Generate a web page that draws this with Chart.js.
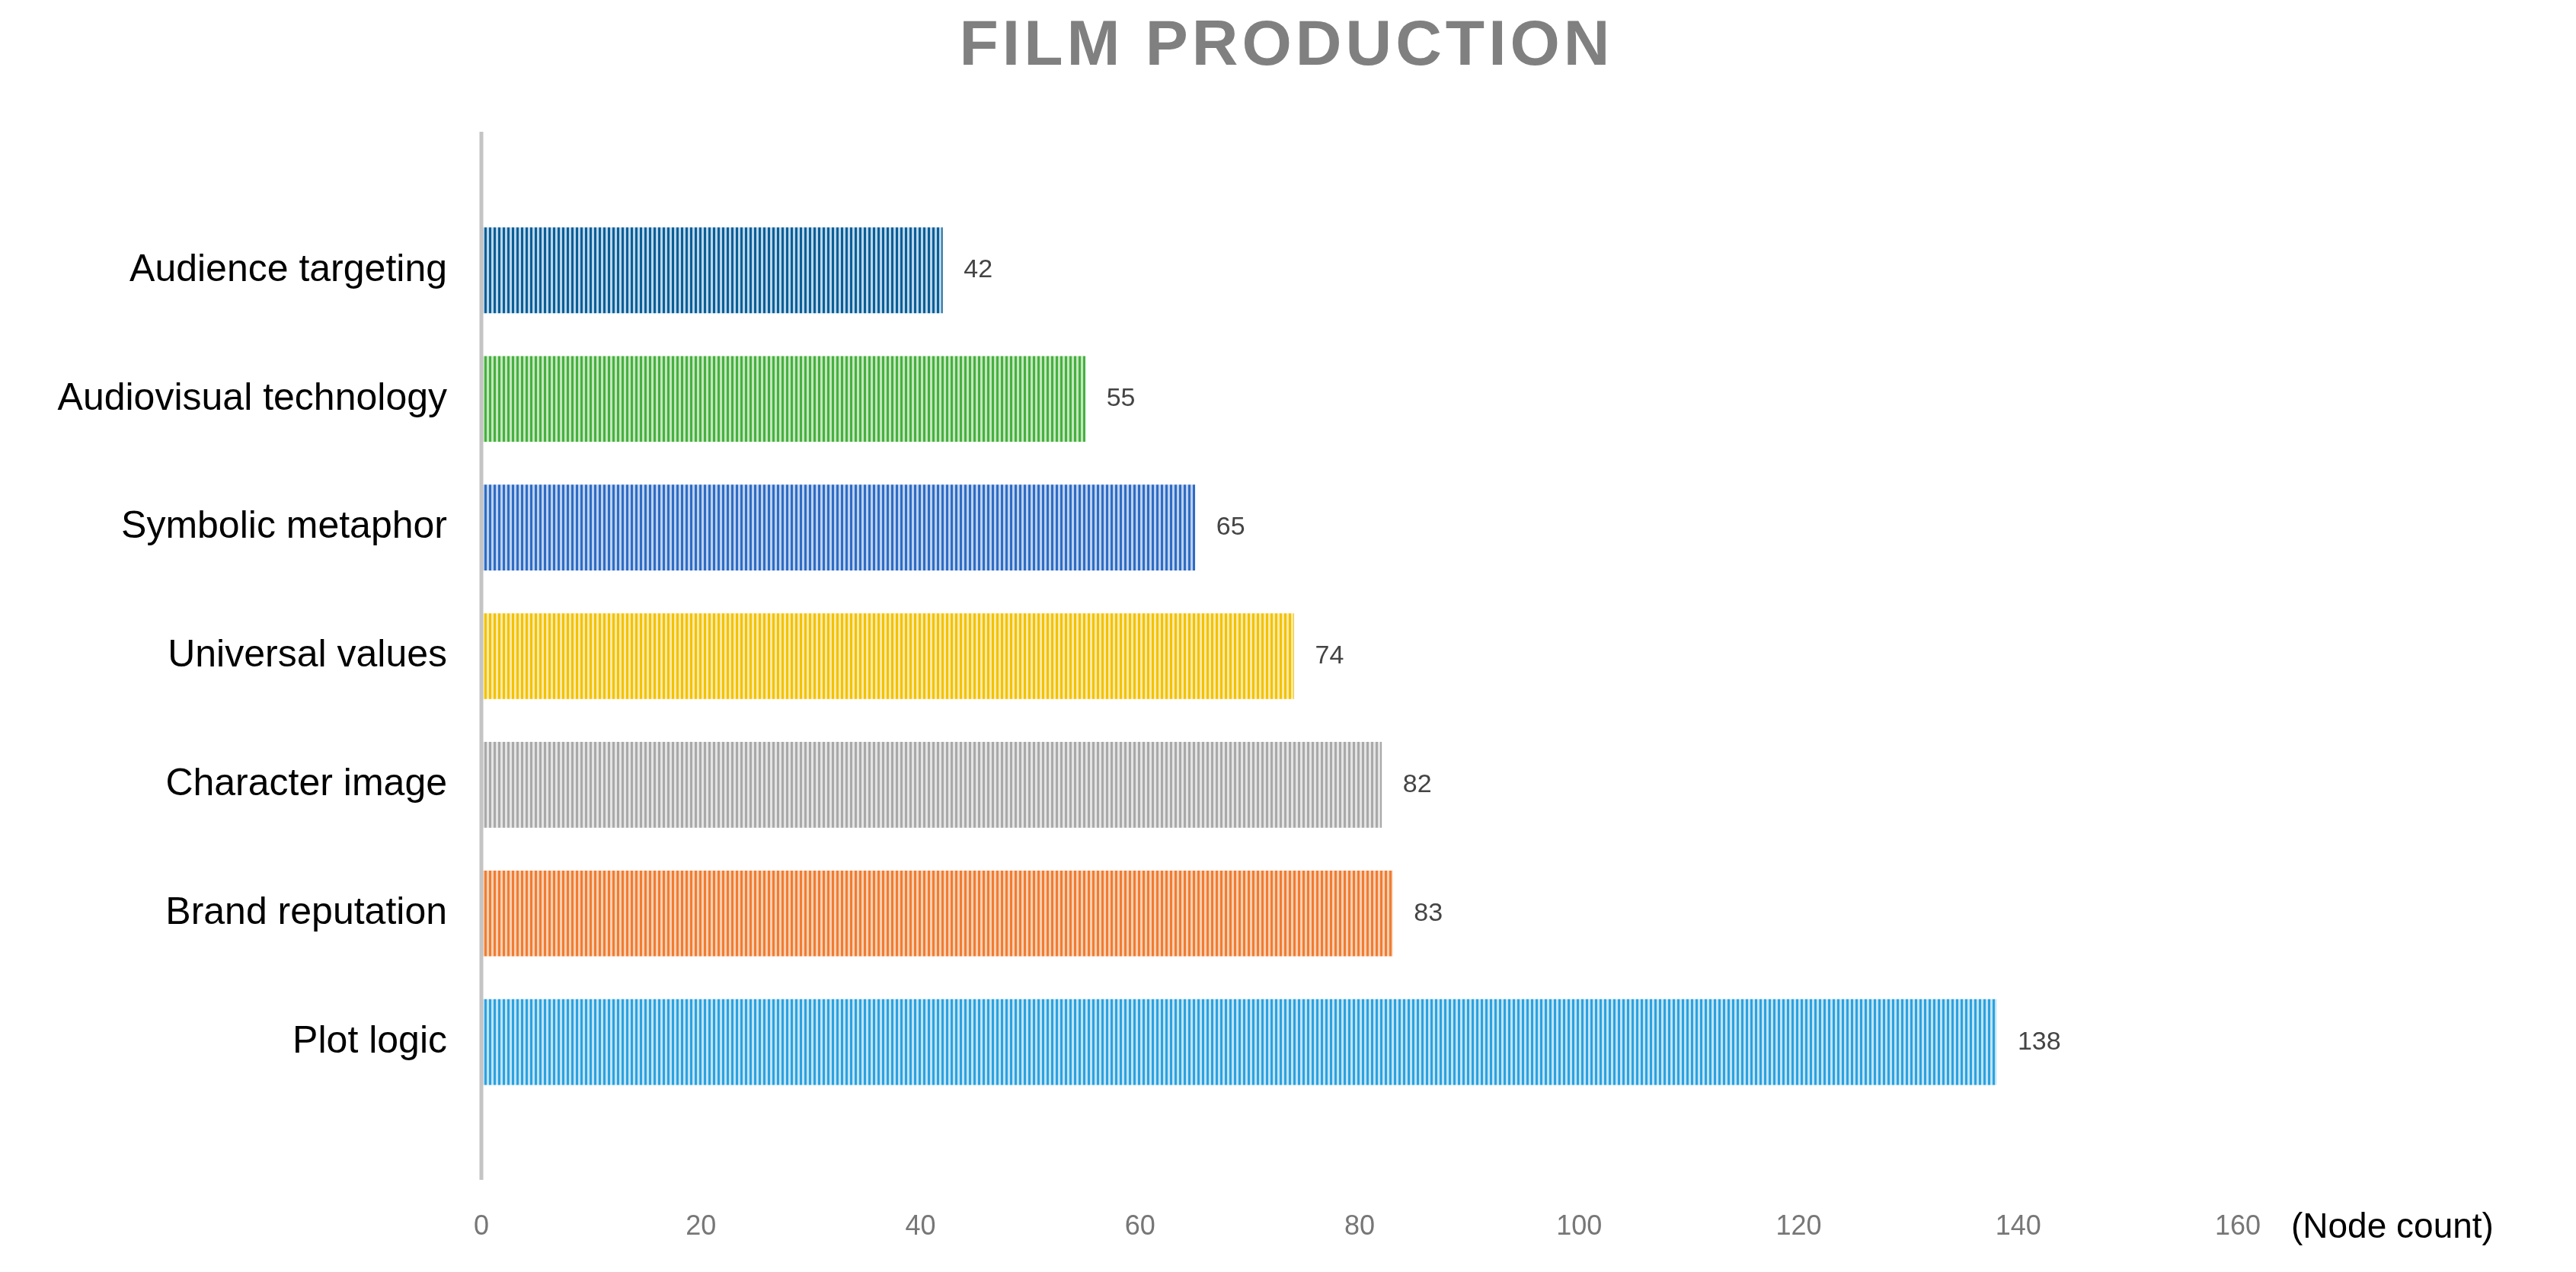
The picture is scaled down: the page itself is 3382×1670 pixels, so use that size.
<!DOCTYPE html>
<html><head><meta charset="utf-8">
<script src="https://cdn.jsdelivr.net/npm/chart.js@4"></script>
<style>html,body{margin:0;padding:0;background:#fff}#w{width:3382px;height:1670px}</style>
</head><body><div id="w"><canvas id="c"></canvas></div>
<script>
const categories = ['', 'Audience targeting', 'Audiovisual technology', 'Symbolic metaphor', 'Universal values', 'Character image', 'Brand reputation', 'Plot logic', ''];
const values = [null, 42, 55, 65, 74, 82, 83, 138, null];
const darkColors = ['#000', '#0a5e96', '#45b13f', '#2e6cc4', '#f2c200', '#a9a9a9', '#f07c32', '#2ba2df', '#000'];
const lightColors = ['#fff', '#b9d6ea', '#c4e6bd', '#bcd0ef', '#fbe9a6', '#e4e4e4', '#f9cfb1', '#c0e3f6', '#fff'];
const xTicks = [0, 20, 40, 60, 80, 100, 120, 140, 160];

function stripe(d, l) {
  const c = document.createElement('canvas'); c.width = 6; c.height = 6;
  const x = c.getContext('2d');
  x.fillStyle = l; x.fillRect(0, 0, 6, 6);
  x.fillStyle = d; x.fillRect(0, 0, 3, 6);
  return x.createPattern(c, 'repeat');
}
const fills = darkColors.map((d, i) => stripe(d, lightColors[i]));

const deco = {
  id: 'deco',
  afterDatasetsDraw(chart) {
    const ctx = chart.ctx, a = chart.chartArea;
    ctx.save();
    ctx.strokeStyle = '#c4c4c4'; ctx.lineWidth = 5;
    ctx.beginPath(); ctx.moveTo(a.left, a.top - 13); ctx.lineTo(a.left, a.bottom + 12); ctx.stroke();
    const meta = chart.getDatasetMeta(0);
    ctx.font = '34px "Liberation Sans", Arial, sans-serif';
    ctx.fillStyle = '#444'; ctx.textBaseline = 'middle'; ctx.textAlign = 'left';
    meta.data.forEach((b, i) => { if (values[i] != null) ctx.fillText(String(values[i]), b.x + 28, b.y); });
    ctx.font = 'bold 84px "Liberation Sans", Arial, sans-serif';
    ctx.fillStyle = '#808080'; ctx.textAlign = 'center';
    ctx.letterSpacing = '5px';
    ctx.fillText('FILM PRODUCTION', 1689, 62);
    ctx.letterSpacing = '0px';
    ctx.font = '46px "Liberation Sans", Arial, sans-serif';
    ctx.fillStyle = '#000'; ctx.textAlign = 'left';
    ctx.fillText('(Node count)', a.right + 70, 1612);
    ctx.restore();
  }
};

new Chart(document.getElementById('c'), {
  type: 'bar',
  data: { labels: categories, datasets: [{ data: values, backgroundColor: fills, borderWidth: 0, barThickness: 112 }] },
  options: {
    indexAxis: 'y', responsive: true, maintainAspectRatio: false, animation: false,
    devicePixelRatio: 1,
    layout: { padding: { top: 186, right: 444, left: 0, bottom: 0 } },
    plugins: { legend: { display: false }, tooltip: { enabled: false } },
    scales: {
      x: {
        min: 0, max: 160,
        afterBuildTicks: s => { s.ticks = xTicks.map(v => ({ value: v })); },
        afterFit: s => { s.height = 133; },
        grid: { display: false, drawTicks: false }, border: { display: false },
        ticks: { padding: 52, color: '#777', font: { size: 36, family: '"Liberation Sans", Arial, sans-serif' } }
      },
      y: {
        offset: false,
        afterFit: s => { s.width = 632; },
        grid: { display: false, drawTicks: false }, border: { display: false },
        ticks: { padding: 45, color: '#000', font: { size: 50, family: '"Liberation Sans", Arial, sans-serif' } }
      }
    }
  },
  plugins: [deco]
});
</script></body></html>
